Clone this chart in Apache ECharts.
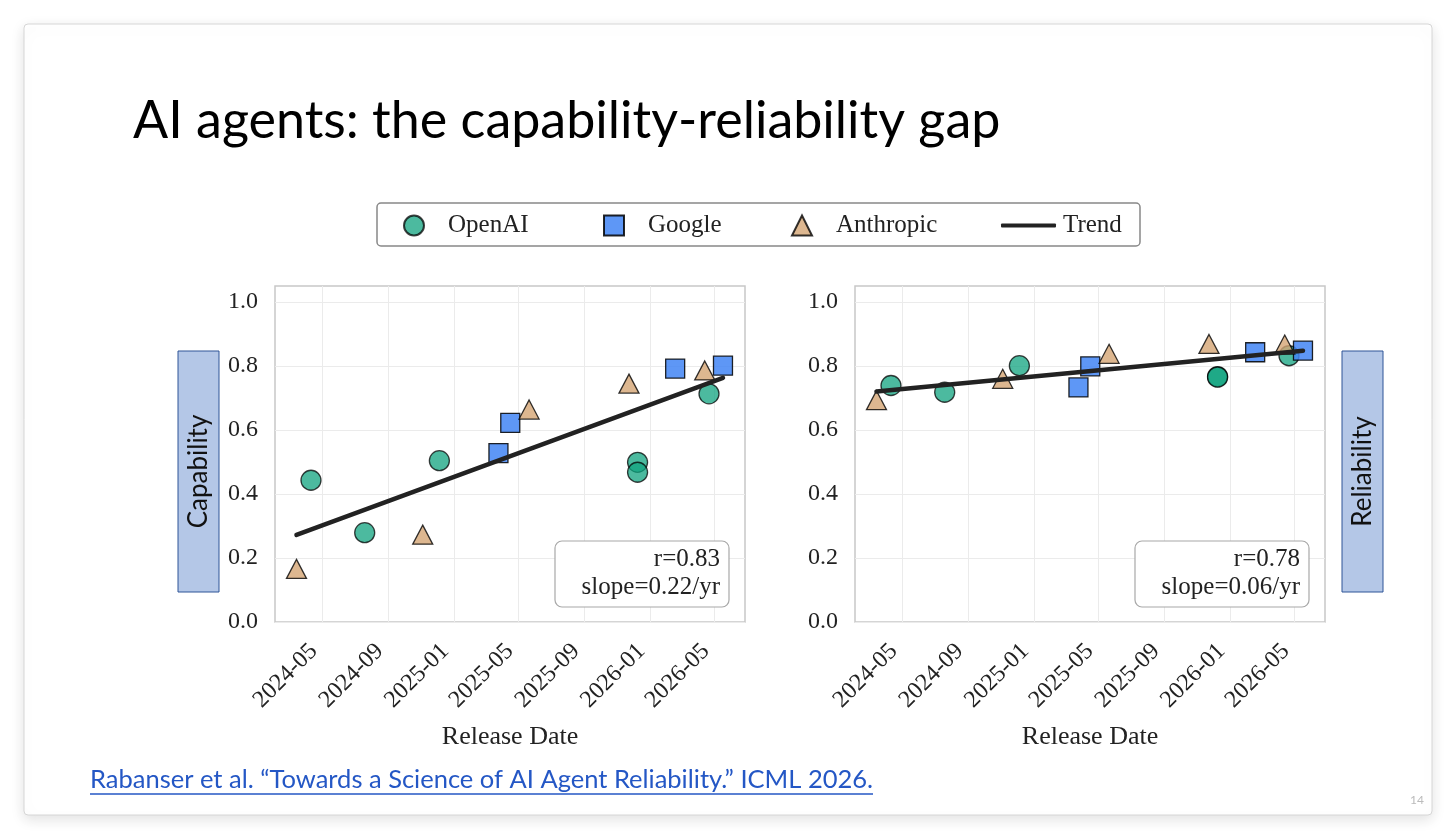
<!DOCTYPE html>
<html>
<head>
<meta charset="utf-8">
<title>AI agents: the capability-reliability gap</title>
<script src="https://cdn.jsdelivr.net/npm/echarts@6/dist/echarts.min.js"></script>
<style>
  html, body { margin: 0; padding: 0; background: #ffffff; }
  #main { width: 1456px; height: 839px; }
</style>
</head>
<body>
<div id="main"></div>
<script>
// values (release date, score)
var openaiDates = ['2024-04-10', '2024-07-19', '2024-12-05', '2025-12-09', '2025-12-09', '2026-04-21'];
var openaiCap = [0.443, 0.279, 0.504, 0.499, 0.468, 0.713];
var openaiRel = [0.739, 0.718, 0.801, 0.767, 0.765, 0.832];

var googleDates = ['2025-03-25', '2025-04-16', '2026-02-17', '2026-05-17'];
var googleCap = [0.528, 0.622, 0.792, 0.801];
var googleRel = [0.733, 0.799, 0.843, 0.848];

var anthropicDates = ['2024-03-14', '2024-11-04', '2025-05-21', '2025-11-23', '2026-04-13'];
var anthropicCap = [0.166, 0.273, 0.664, 0.745, 0.786];
var anthropicRel = [0.693, 0.760, 0.838, 0.869, 0.867];

// trend line end points
var trendDates = ['2024-03-14', '2026-05-17'];
var trendCap = [0.272, 0.763];
var trendRel = [0.720, 0.848];

var xTickDates = ['2024-05-01', '2024-09-01', '2025-01-01', '2025-05-01', '2025-09-01', '2026-01-01', '2026-05-01'];
var yTicks = [0, 0.2, 0.4, 0.6, 0.8, 1.0];
var capStats = ['r=0.83', 'slope=0.22/yr'];
var relStats = ['r=0.78', 'slope=0.06/yr'];

var serif = '"Liberation Serif", "DejaVu Serif", serif';
var sans = 'Lato, "Noto Sans", sans-serif';

function ts(d) {
  var p = d.split('-');
  return Date.UTC(+p[0], +p[1] - 1, +p[2]);
}
function pairs(dates, vals) {
  var out = [];
  for (var i = 0; i < dates.length; i++) {
    out.push([ts(dates[i]), vals[i]]);
  }
  return out;
}
function fmtMonth(v) {
  var d = new Date(v);
  var m = d.getUTCMonth() + 1;
  return d.getUTCFullYear() + '-' + (m < 10 ? '0' + m : m);
}

var xTicks = xTickDates.map(ts);

function makeX(gi) {
  return {
    type: 'value',
    gridIndex: gi,
    min: ts('2024-02-03'),
    max: ts('2026-06-27'),
    name: 'Release Date',
    nameLocation: 'middle',
    nameGap: 102,
    nameTextStyle: { fontFamily: serif, fontSize: 26, color: '#222' },
    axisLine: { show: false },
    axisTick: { show: false, customValues: xTicks },
    axisLabel: {
      customValues: xTicks,
      rotate: 45,
      margin: 17,
      padding: [0, 12, 0, 0],
      formatter: fmtMonth,
      fontFamily: serif,
      fontSize: 24,
      color: '#222'
    },
    splitLine: { show: true, lineStyle: { color: '#ebebeb', width: 1 } }
  };
}
function makeY(gi) {
  return {
    type: 'value',
    gridIndex: gi,
    min: 0,
    max: 1.05,
    axisLine: { show: false },
    axisTick: { show: false, customValues: yTicks },
    axisLabel: {
      customValues: yTicks,
      margin: 17,
      formatter: function (v) { return v.toFixed(1); },
      fontFamily: serif,
      fontSize: 24,
      color: '#222'
    },
    splitLine: { show: true, lineStyle: { color: '#ebebeb', width: 1 } }
  };
}

// 三组散点 + 趋势线
function makeSeries(gi, cap) {
  return [
    {
      name: 'OpenAI', type: 'scatter', xAxisIndex: gi, yAxisIndex: gi,
      symbol: 'circle', symbolSize: 20,
      itemStyle: { color: '#10a37f', opacity: 0.75, borderColor: '#000', borderWidth: 1.3 },
      data: pairs(openaiDates, cap ? openaiCap : openaiRel)
    },
    {
      name: 'Google', type: 'scatter', xAxisIndex: gi, yAxisIndex: gi,
      symbol: 'rect', symbolSize: 19,
      itemStyle: { color: '#4285f4', opacity: 0.85, borderColor: '#000', borderWidth: 1.3 },
      data: pairs(googleDates, cap ? googleCap : googleRel)
    },
    {
      name: 'Anthropic', type: 'scatter', xAxisIndex: gi, yAxisIndex: gi,
      symbol: 'triangle', symbolSize: [20, 19],
      itemStyle: { color: '#d4a574', opacity: 0.8, borderColor: '#000', borderWidth: 1.3 },
      data: pairs(anthropicDates, cap ? anthropicCap : anthropicRel)
    },
    {
      name: 'Trend', type: 'line', xAxisIndex: gi, yAxisIndex: gi,
      symbol: 'none', z: 5,
      itemStyle: { color: '#222' },
      lineStyle: { color: '#222', width: 4.5, cap: 'round' },
      data: pairs(trendDates, cap ? trendCap : trendRel)
    }
  ];
}

function legendItem(name, left, isLine) {
  return {
    data: [name],
    left: left,
    top: 213,
    padding: 0,
    itemGap: 0,
    selectedMode: false,
    icon: isLine ? 'roundRect' : undefined,
    itemWidth: isLine ? 55 : 20,
    itemHeight: isLine ? 4 : 20,
    textStyle: {
      fontFamily: serif,
      fontSize: 25,
      color: '#222',
      padding: isLine ? [0, 0, 0, 2] : [0, 0, 0, 19]
    }
  };
}

function statBox(x, lines) {
  return {
    type: 'group',
    children: [
      {
        type: 'rect', z: 20,
        shape: { x: x, y: 541, width: 174, height: 66, r: 7 },
        style: { fill: '#ffffff', stroke: '#a8a8a8', lineWidth: 1.2 }
      },
      {
        type: 'text', z: 21,
        x: x + 165, y: 573,
        style: {
          text: lines.join('\n'),
          align: 'right', verticalAlign: 'middle',
          lineHeight: 28,
          font: '25px ' + serif,
          fill: '#222'
        }
      }
    ]
  };
}

function sideLabel(x, text) {
  return {
    type: 'group',
    children: [
      {
        type: 'rect',
        shape: { x: x, y: 351, width: 41, height: 241 },
        style: { fill: '#b4c7e7', stroke: '#2f5597', lineWidth: 1 }
      },
      {
        type: 'text',
        x: x + 20.5, y: 471.5,
        rotation: Math.PI / 2,
        style: {
          text: text,
          align: 'center', verticalAlign: 'middle',
          font: '26px ' + sans,
          fill: '#111'
        }
      }
    ]
  };
}

var chart = echarts.init(document.getElementById('main'));

var option = {
  backgroundColor: '#ffffff',
  animation: false,
  grid: [
    { left: 275, top: 286, width: 470, height: 336, show: true, backgroundColor: '#fff', borderColor: '#c8c8c8', borderWidth: 1.5 },
    { left: 855, top: 286, width: 470, height: 336, show: true, backgroundColor: '#fff', borderColor: '#c8c8c8', borderWidth: 1.5 }
  ],
  xAxis: [makeX(0), makeX(1)],
  yAxis: [makeY(0), makeY(1)],
  legend: [
    legendItem('OpenAI', 403, false),
    legendItem('Google', 603, false),
    legendItem('Anthropic', 791, false),
    legendItem('Trend', 1001, true)
  ],
  graphic: [
    // slide card
    {
      type: 'rect', z: -100,
      shape: { x: 24, y: 24, width: 1408, height: 791, r: 4 },
      style: { fill: '#fff', stroke: '#d6d6d6', lineWidth: 1, shadowBlur: 14, shadowOffsetY: 4, shadowColor: 'rgba(0,0,0,0.12)' }
    },
    {
      type: 'text', x: 133, y: 121,
      style: { text: 'AI agents: the capability-reliability gap', verticalAlign: 'middle', font: '52px ' + sans, fill: '#000' }
    },
    // legend frame
    {
      type: 'rect', z: -1,
      shape: { x: 377, y: 203, width: 763, height: 43, r: 4 },
      style: { fill: '#fff', stroke: '#888', lineWidth: 1.5 }
    },
    sideLabel(178, 'Capability'),
    sideLabel(1342, 'Reliability'),
    statBox(555, capStats),
    statBox(1135, relStats),
    {
      type: 'text', x: 90, y: 780,
      style: { text: 'Rabanser et al. \u201cTowards a Science of AI Agent Reliability.\u201d ICML 2026.', verticalAlign: 'middle', font: '25.5px ' + sans, fill: '#2457c5' }
    },
    {
      type: 'line',
      shape: { x1: 90, y1: 794, x2: 873, y2: 794 },
      style: { stroke: '#2457c5', lineWidth: 1.5 }
    },
    {
      type: 'text', x: 1410, y: 800,
      style: { text: '14', verticalAlign: 'middle', font: '12px ' + sans, fill: '#bbb' }
    }
  ],
  series: makeSeries(0, true).concat(makeSeries(1, false))
};

chart.setOption(option);
</script>
</body>
</html>
